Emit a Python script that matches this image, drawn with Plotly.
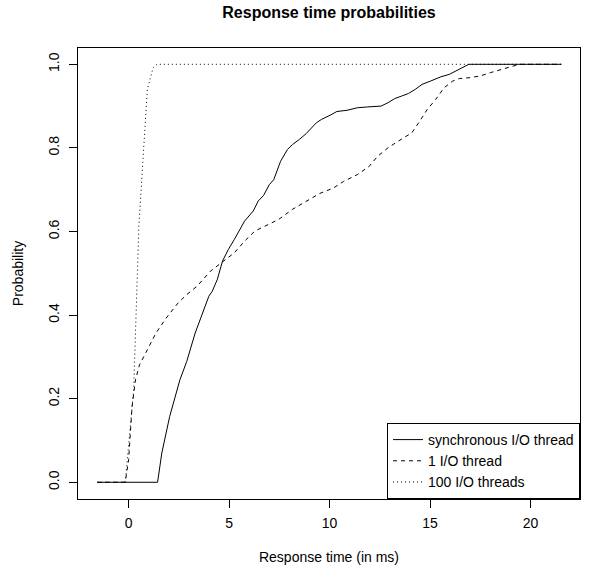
import plotly.graph_objects as go

# synchronous I/O thread
sync_x = [-1.56, 1.44, 1.65, 2.04, 2.55, 2.89, 3.31, 3.74, 3.99, 4.16, 4.41, 4.67, 4.96, 5.26,
          5.77, 6.20, 6.45, 6.71, 7.00, 7.22, 7.56, 7.90, 8.15, 8.49, 8.83, 9.34, 9.59, 10.02,
          10.36, 10.87, 11.38, 11.88, 12.56, 12.90, 13.24, 13.58, 13.92, 14.26, 14.60, 15.03,
          15.53, 15.96, 16.38, 16.64, 16.93, 21.53]
sync_y = [0.0, 0.0, 0.07, 0.157, 0.245, 0.289, 0.357, 0.413, 0.445, 0.457, 0.485, 0.529, 0.557,
          0.581, 0.625, 0.649, 0.673, 0.686, 0.712, 0.724, 0.768, 0.796, 0.808, 0.820, 0.834,
          0.860, 0.868, 0.878, 0.887, 0.890, 0.896, 0.898, 0.900, 0.908, 0.918, 0.924, 0.930,
          0.940, 0.952, 0.960, 0.970, 0.976, 0.986, 0.992, 1.0, 1.0]

# 1 I/O thread
one_x = [-1.56, -0.17, 0.0, 0.17, 0.34, 0.54, 0.93, 1.36, 1.87, 2.46, 2.89, 3.40, 4.07, 4.75,
         5.26, 5.77, 6.28, 6.79, 7.47, 8.15, 8.83, 9.51, 10.19, 10.70, 11.38, 11.97, 12.39,
         12.90, 13.41, 14.09, 14.43, 14.86, 15.28, 15.70, 16.13, 16.47, 16.98, 17.49, 18.00,
         18.68, 19.19, 19.44, 21.53]
one_y = [0.0, 0.0, 0.054, 0.181, 0.245, 0.281, 0.317, 0.357, 0.393, 0.429, 0.449, 0.469, 0.505,
         0.529, 0.549, 0.577, 0.601, 0.613, 0.629, 0.653, 0.673, 0.691, 0.704, 0.720, 0.736,
         0.756, 0.780, 0.800, 0.816, 0.836, 0.860, 0.892, 0.916, 0.944, 0.960, 0.966, 0.968,
         0.972, 0.980, 0.990, 0.998, 1.0, 1.0]

# 100 I/O threads
hundred_x = [-1.56, -0.17, 0.25, 0.51, 0.93, 1.22, 1.41, 21.53]
hundred_y = [0.0, 0.0, 0.221, 0.613, 0.94, 0.992, 1.0, 1.0]

x_ticks = [0, 5, 10, 15, 20]
y_ticks = [0.0, 0.2, 0.4, 0.6, 0.8, 1.0]

FONT = "Liberation Sans, Arial, Helvetica, sans-serif"

fig = go.Figure()
fig.add_trace(go.Scatter(x=sync_x, y=sync_y, mode="lines", name="synchronous I/O thread",
                         line=dict(color="black", width=1, dash="solid")))
fig.add_trace(go.Scatter(x=one_x, y=one_y, mode="lines", name="1 I/O thread",
                         line=dict(color="black", width=1, dash="4px,4px")))
fig.add_trace(go.Scatter(x=hundred_x, y=hundred_y, mode="lines", name="100 I/O threads",
                         line=dict(color="black", width=1, dash="1px,3px")))

fig.update_layout(
    width=596, height=567,
    margin=dict(l=78, r=16, t=48, b=68, autoexpand=False),
    paper_bgcolor="white", plot_bgcolor="white",
    font=dict(family=FONT, size=14, color="black"),
    title=dict(text="<b>Response time probabilities</b>", x=329 / 596, xanchor="center",
               y=1 - 12 / 567, yanchor="middle", font=dict(size=16, family=FONT)),
    showlegend=True,
    legend=dict(x=1, y=0, xanchor="right", yanchor="bottom", bordercolor="black", borderwidth=1,
                bgcolor="white", font=dict(size=14, family=FONT), tracegroupgap=0,
                itemwidth=30),
    xaxis=dict(range=[-2.52, 22.46], tickvals=x_ticks, ticks="outside", ticklen=8, tickcolor="black",
               showline=True, linecolor="black", linewidth=1, mirror=True, showgrid=False,
               zeroline=False, automargin=False, tickfont=dict(size=14), ticklabelstandoff=3,
               title=dict(text="Response time (in ms)", standoff=22, font=dict(size=14))),
    yaxis=dict(range=[-0.040, 1.039], tickvals=y_ticks, tickformat=".1f", ticks="outside",
               ticklen=8, tickcolor="black", tickangle=-90, automargin=False, tickfont=dict(size=14),
               ticklabelstandoff=4,
               showline=True, linecolor="black", linewidth=1, mirror=True, showgrid=False,
               zeroline=False, title=dict(text="Probability", standoff=19, font=dict(size=14))),
)

fig.write_html("out.html", config={"displayModeBar": False},
               post_script="document.body.style.margin='0';document.body.style.padding='0';")
